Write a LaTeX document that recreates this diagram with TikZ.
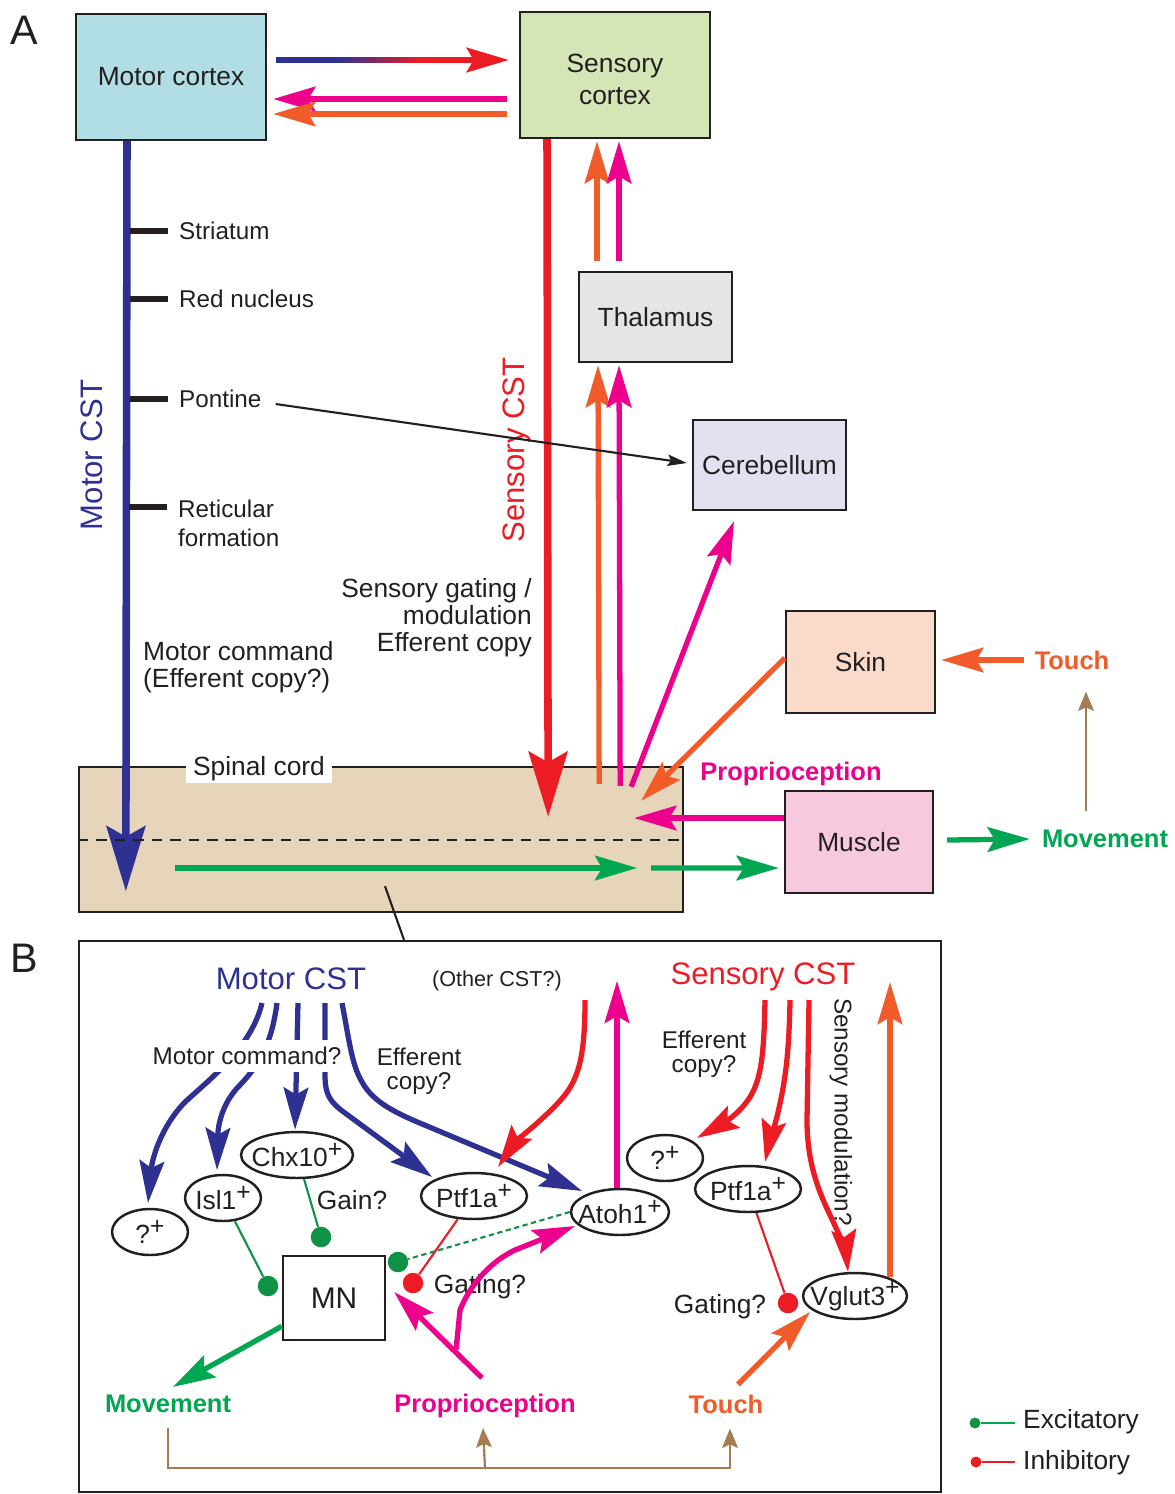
\documentclass[tikz,border=0pt]{standalone}
\usepackage{fontspec}
\setmainfont{Liberation Sans}
\usepackage{tikz}
\usetikzlibrary{arrows.meta,calc,positioning,shapes.geometric}
\definecolor{cstblue}{HTML}{2E3192}
\definecolor{cstred}{HTML}{ED1C24}
\definecolor{prmag}{HTML}{EC008C}
\definecolor{tchor}{HTML}{F15A29}
\definecolor{mvgreen}{HTML}{00A651}
\definecolor{exgreen}{HTML}{0F9146}
\definecolor{fbbrown}{HTML}{A67C52}
\definecolor{inkblack}{HTML}{231F20}
\definecolor{mcfill}{HTML}{B1DEE4}
\definecolor{scfill}{HTML}{D4E6B5}
\definecolor{thfill}{HTML}{E4E5E7}
\definecolor{cbfill}{HTML}{E3E1F0}
\definecolor{skfill}{HTML}{FADBC9}
\definecolor{msfill}{HTML}{F7C9DF}
\definecolor{cdfill}{HTML}{E6D5BA}
\pgfdeclarehorizontalshading{effcopy}{100bp}{color(0bp)=(cstblue); color(40bp)=(cstblue); color(60bp)=(cstred); color(100bp)=(cstred)}
\newcommand{\lbfont}{\fontsize{15}{18}\selectfont}
\newcommand{\tkfont}{\fontsize{13.8}{16.4}\selectfont}
\newcommand{\cstfont}{\fontsize{17.7}{20}\selectfont}
\newcommand{\bdfont}{\fontsize{14.5}{17}\selectfont\bfseries}
\newcommand{\ocfont}{\fontsize{12.3}{14}\selectfont}
\newcommand{\pnfont}{\fontsize{23.5}{26}\selectfont}
\newcommand{\cellplus}{\raisebox{5.5pt}{\fontsize{14}{14}\selectfont +}}

\begin{document}
\begin{tikzpicture}[x=0.02cm,y=-0.02cm,
  every node/.style={text=inkblack,font=\lbfont},
  areabox/.style={draw=inkblack,line width=1.4pt,inner sep=0pt},
  cell/.style={draw=inkblack,ellipse,line width=1.4pt,inner xsep=-6pt,inner ysep=0pt,minimum height=0.92cm},
  dotnode/.style={circle,inner sep=0pt,minimum size=0.41cm},
  thk/.style={line width=3pt,-{Stealth[length=24pt,width=14pt,inset=4pt]}},
  cst/.style={line width=4.3pt,-{Stealth[length=37pt,width=22pt,inset=6pt]}},
  thn/.style={line width=1.2pt},
  fb/.style={fbbrown,line width=1.3pt,-{Stealth[length=11pt,width=9pt,inset=2pt]}},
  hint/.style={font=\tkfont},
  sense/.style={font=\bdfont}]
\useasboundingbox (0,0) rectangle (1175,1494);
% A
\node[font=\pnfont] (pA) at (24,30) {A};
\node[areabox,fill=mcfill,minimum width=3.8cm,minimum height=2.52cm] (mc) at (171,77) {Motor cortex};
\node[areabox,fill=scfill,minimum width=3.8cm,minimum height=2.52cm,align=center] (sc) at (615,75) {\rule{0pt}{15.3pt}Sensory\\cortex};
\node[areabox,fill=thfill,minimum width=3.06cm,minimum height=1.8cm] (th) at (655.5,317) {Thalamus};
\node[areabox,fill=cbfill,minimum width=3.06cm,minimum height=1.8cm] (cb) at (769.5,465) {Cerebellum};
\node[areabox,fill=skfill,minimum width=2.98cm,minimum height=2.04cm] (sk) at (860.5,662) {Skin};
\node[areabox,fill=msfill,minimum width=2.96cm,minimum height=2.04cm] (ms) at (859,842) {Muscle};
\node[areabox,fill=cdfill,minimum width=12.08cm,minimum height=2.9cm] (cd) at (381,839.5) {};
\node[areabox,minimum width=17.24cm,minimum height=11.02cm] (bx) at (510,1216.5) {};
\node[fill=white,inner xsep=4pt,inner ysep=1pt] (cdl) at (259,769) {Spinal cord};
\node[hint,anchor=west] (st) at (173,231) {Striatum};
\node[hint,anchor=west] (rn) at (173,299) {Red nucleus};
\node[hint,anchor=west] (pn) at (173,399) {Pontine};
\node[hint,anchor=west,align=left] (rf) at (172,523) {Reticular\\formation};
\node[font=\cstfont,text=cstblue,rotate=90] (mcst) at (92,455) {Motor CST};
\node[font=\cstfont,text=cstred,rotate=90] (scst) at (517,450) {Sensory CST};
\node[align=right,anchor=east] (sg) at (538,618) {Sensory gating /\\[-2.7pt]modulation\\[-2.7pt]Efferent copy};
\node[align=left,anchor=west] (mcmd) at (137,667) {Motor command\\[-2.7pt](Efferent copy?)};
\node[sense,text=prmag] (pr) at (791,774) {Proprioception};
\node[sense,text=tchor] (tc) at (1072,660) {Touch};
\node[sense,text=mvgreen] (mv) at (1105,839) {Movement};

\shade[shading=effcopy] ($(mc.east)+(9,-19.65)$) rectangle ($(sc.west)+(-35,-12.35)$);
\draw[thk,cstred] ($(sc.west)+(-36,-15)$) -- ($(sc.west)+(-10,-15)$);
\draw[thk,prmag] ($(sc.west)+(-12,24)$) -- ($(mc.east)+(6,22)$);
\draw[thk,tchor] ($(sc.west)+(-12,39)$) -- ($(mc.east)+(6,37)$);
\draw[cst,cstblue] ($(mc.south)+(-44,0)$) -- ($(cd.south west)+(48,-22)$);
\foreach \lb/\dy in {st/0,rn/0,pn/0,rf/-16}
  \draw[line width=3pt,inkblack] ($(\lb.west)+(-43,\dy)$) -- ($(\lb.west)+(-5,\dy)$);
\draw[cst,cstred] ($(sc.south)+(-68,0)$) -- ($(cd.north east)+(-136,51)$);
\draw[thk,tchor] ($(th.north)+(-58.5,-10)$) -- ($(sc.south)+(-18,2)$);
\draw[thk,prmag] ($(th.north)+(-36.5,-10)$) -- ($(sc.south)+(4,2)$);
\draw[thk,tchor] ($(cd.north east)+(-85,18)$) -- ($(th.south)+(-57.5,2)$);
\draw[thk,prmag] ($(cd.north east)+(-64,20)$) -- ($(th.south)+(-36.5,2)$);
\draw[thk,prmag] ($(cd.north east)+(-53,21)$) -- ($(cb.south)+(-35.5,10)$);
\draw[line width=1.2pt,inkblack,-{Stealth[length=11pt,width=6.5pt,inset=2pt]}] ($(pn.east)+(8,5)$) -- ($(cb.west)+(-5,-2)$);
\draw[thk,tchor] ($(sk.west)+(0,-4)$) -- ($(cd.north east)+(-43,35)$);
\draw[thk,prmag] ($(ms.west)+(0,-24)$) -- ($(cd.east)+(-50,-21.5)$);
\draw[thk,tchor] ($(tc.west)+(-5,0)$) -- ($(sk.east)+(5,-2)$);
\draw[thk,mvgreen] ($(ms.east)+(13,-2)$) -- ($(mv.west)+(-6,0)$);
\draw[fb] ($(mv.north)+(-19,-13)$) -- ($(tc.south)+(14,16)$);
\draw[line width=1.3pt,inkblack,dash pattern=on 6pt off 4.5pt] ($(cd.west)+(0,0.5)$) -- ($(cd.east)+(0,0.5)$);
\draw[thk,mvgreen] ($(cd.west)+(97,28.5)$) -- ($(cd.east)+(-47,28.5)$);
\draw[thk,mvgreen] ($(cd.east)+(-33,28.5)$) -- ($(ms.west)+(-5,26)$);
\draw[line width=1.2pt,inkblack] ($(cd.south)+(4,-27)$) -- ($(bx.north)+(-106,0)$);

% B
\node[font=\pnfont] (pB) at (24,958) {B};
\node[font=\cstfont,text=cstblue] (mct) at (291,979) {Motor CST};
\node[font=\ocfont] (oc) at (497,981) {(Other CST?)};
\node[font=\cstfont,text=cstred] (sct) at (763,977) {Sensory CST};
\node[cell,minimum width=1.52cm] (q1) at (150,1232) {?\cellplus};
\node[cell,minimum width=1.52cm] (is) at (223,1198) {Isl1\cellplus};
\node[cell,minimum width=2.24cm] (cx) at (297,1155) {Chx10\cellplus};
\node[cell,minimum width=2.12cm] (pl) at (474,1196) {Ptf1a\cellplus};
\node[cell,minimum width=1.96cm] (at) at (620,1212) {Atoh1\cellplus};
\node[cell,minimum width=1.52cm] (q2) at (665,1158) {?\cellplus};
\node[cell,minimum width=2.12cm] (pr2) at (748,1189) {Ptf1a\cellplus};
\node[cell,minimum width=2.08cm] (vg) at (855,1296) {Vglut3\cellplus};
\node[areabox,minimum width=2.04cm,minimum height=1.68cm,font=\fontsize{17}{20}\selectfont] (mn) at (334,1298) {MN};
\node[dotnode,fill=exgreen] (d1) at (321,1237) {};
\node[dotnode,fill=exgreen] (d2) at (268,1286) {};
\node[dotnode,fill=exgreen] (d3) at (398,1262) {};
\node[dotnode,fill=cstred] (d4) at (413,1283) {};
\node[dotnode,fill=cstred] (d5) at (788,1303) {};
\node[hint,align=center] (efl) at (419,1071) {Efferent\\[-3pt]copy?};
\node (gn) at (352,1200) {Gain?};
\node (gl) at (480,1287) {Gating?};
\node[hint,align=center] (efr) at (704,1054) {Efferent\\[-3pt]copy?};
\node[hint,rotate=-90] (smq) at (841,1112) {Sensory modulation?};
\node (gr) at (720,1307) {Gating?};
\node[sense,text=mvgreen] (mv2) at (168,1404) {Movement};
\node[sense,text=prmag] (pp) at (485,1406) {Proprioception};
\node[sense,text=tchor] (tc2) at (726,1404) {Touch};

\draw[thk,cstblue] ($(mct)+(-29,24)$) .. controls (252,1045) and (215,1075) .. (185,1102) .. controls (160,1128) and (152,1160) .. ($(q1)+(-2,-29)$);
\draw[thk,cstblue] ($(mct)+(-14,24)$) .. controls (272,1040) and (262,1062) .. (240,1085) .. controls (222,1103) and (218,1125) .. ($(is)+(-6,-28)$);
\draw[thk,cstblue] ($(mct)+(7,24)$) -- ($(cx.north)+(-2,-1)$);
\draw[thk,cstblue] ($(mct)+(34,24)$) -- (325,1075) .. controls (325,1095) and (330,1102) .. (345,1113) -- ($(pl)+(-42,-19)$);
\draw[thk,cstblue] ($(mct)+(51,24)$) .. controls (350,1045) and (352,1065) .. (362,1082) .. controls (372,1100) and (390,1110) .. (415,1121) -- ($(at)+(-38,-21)$);
\node[hint,fill=white,inner xsep=1pt,inner ysep=4pt] (mcq) at (247,1056) {Motor command?};
\draw[thk,cstred] ($(oc)+(88,19)$) .. controls (585,1060) and (578,1082) .. (558,1103) .. controls (540,1122) and (515,1142) .. ($(pl)+(24,-29)$);
\draw[thk,prmag] ($(at.north)+(-3,0)$) -- ($(at.north)+(-3,-207)$);
\draw[thk,cstred] ($(sct)+(2,23)$) .. controls (764,1050) and (762,1078) .. (750,1097) .. controls (740,1113) and (725,1122) .. ($(q2)+(32,-20)$);
\draw[thk,cstred] ($(sct)+(27,23)$) .. controls (789,1060) and (784,1085) .. (779,1108) .. controls (774,1130) and (768,1148) .. ($(pr2)+(17,-27)$);
\draw[thk,cstred] ($(sct)+(46,23)$) -- (807,1120) .. controls (807,1162) and (818,1190) .. (830,1215) .. controls (840,1236) and (846,1252) .. ($(vg)+(-7,-24)$);
\draw[thk,tchor] ($(vg)+(35,-19)$) -- ($(vg)+(35,-314)$);
\draw[thn,exgreen] (cx) -- (d1);
\draw[thn,exgreen] (is) -- (d2);
\draw[thn,exgreen,dash pattern=on 3pt off 2pt] (at.west) -- (d3);
\draw[thn,cstred] (pl) -- (d4);
\draw[thn,cstred] (pr2) -- (d5);
\draw[thk,prmag] ($(pp.north)+(-3,-10)$) -- ($(mn.east)+(8,-6)$);
\draw[thk,prmag] ($(pp.north)+(-29,-38)$) -- (460,1310) .. controls (470,1285) and (490,1262) .. (515,1250) -- ($(at)+(-45,14)$);
\draw[thk,mvgreen] ($(mn.south west)+(0,-15)$) -- ($(mv2.north)+(5,-2)$);
\draw[thk,tchor] ($(tc2.north)+(12,-4)$) -- ($(vg)+(-45,16)$);
\coordinate (fbm) at ($(mv2.south)+(0,49)$);
\draw[fb] ($(mv2.south)+(0,9)$) -- (fbm) -| ($(tc2.south)+(4,9)$);
\draw[fb] (fbm -| pp.south) -- ($(pp.south)+(-2,4)$);
% legend
\node[dotnode,minimum size=0.22cm,fill=exgreen] (lx) at (975,1423) {};
\node[anchor=west] (lxt) at (1017,1422) {Excitatory};
\draw[line width=1.4pt,mvgreen] (lx) -- ($(lxt.west)+(-2,1)$);
\node[dotnode,minimum size=0.22cm,fill=cstred] (li) at (976,1462) {};
\node[anchor=west] (lit) at (1017,1463) {Inhibitory};
\draw[line width=1.4pt,cstred] (li) -- ($(lit.west)+(-2,-1)$);
\end{tikzpicture}
\end{document}
